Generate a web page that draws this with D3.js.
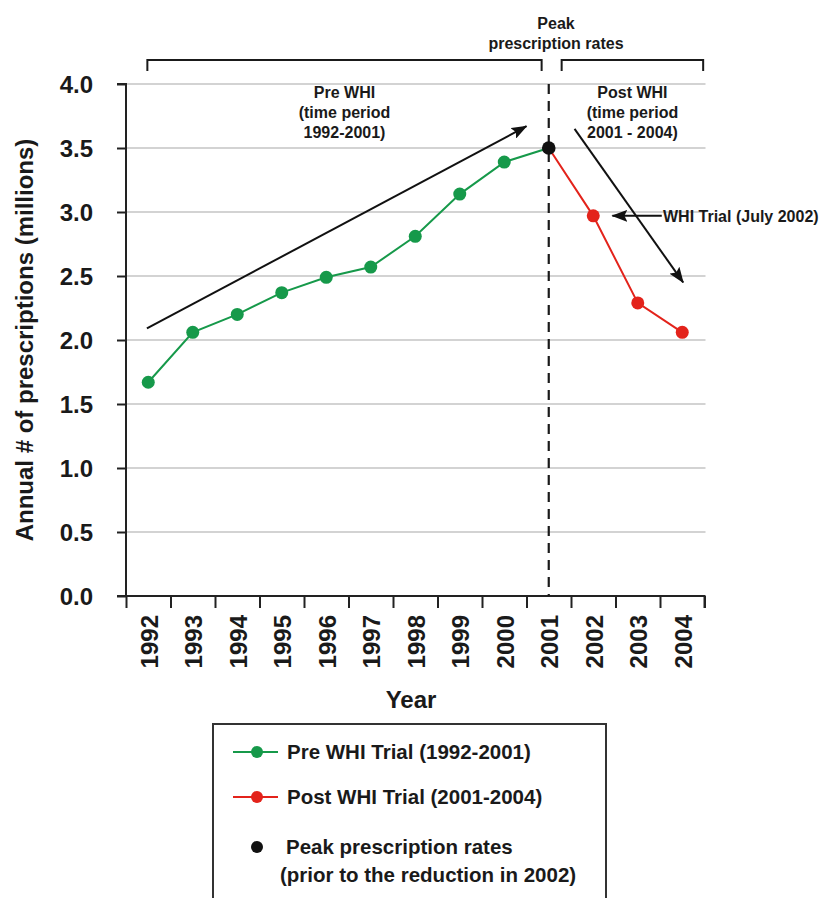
<!DOCTYPE html>
<html>
<head>
<meta charset="utf-8">
<script src="https://cdn.jsdelivr.net/npm/d3@7"></script>
<style>
  html, body { margin: 0; padding: 0; background: #fff; }
  svg { display: block; }
  text { font-family: "Liberation Sans", Arial, Helvetica, sans-serif; font-weight: bold; fill: #1a1a1a; }
</style>
</head>
<body>
<svg id="chart" width="821" height="898"></svg>
<script>
// ---- data ----
const years = ["1992","1993","1994","1995","1996","1997","1998","1999","2000","2001","2002","2003","2004"];
const preYears = ["1992","1993","1994","1995","1996","1997","1998","1999","2000","2001"];
const preValues = [1.67, 2.06, 2.20, 2.37, 2.49, 2.57, 2.81, 3.14, 3.39, 3.50];
const postYears = ["2001","2002","2003","2004"];
const postValues = [3.50, 2.97, 2.29, 2.06];
const peakYear = "2001";
const peakValue = 3.50;
const yTicks = [0.0, 0.5, 1.0, 1.5, 2.0, 2.5, 3.0, 3.5, 4.0];
const legendLabels = ["Pre WHI Trial (1992-2001)", "Post WHI Trial (2001-2004)", "Peak prescription rates", "(prior to the reduction in 2002)"];
const yTitle = "Annual # of prescriptions (millions)";
const xTitle = "Year";

// ---- layout ----
const svg = d3.select("#chart");
const pL = 126, pR = 704.5, pT = 84, pB = 596;
const green = "#16994a", red = "#e3231b";

const x = d3.scaleBand().domain(years).range([pL, pR]).padding(0);
const bw = x.bandwidth();
const cx = d => x(d) + bw / 2;
const xi = d3.scaleLinear().domain([0, years.length]).range([pL, pR]); // boundary scale
const xc = i => xi(i + 0.5); // fractional year index to centre pixel
const y = d3.scaleLinear().domain([0, 4]).range([pB, pT]);

// gridlines
svg.append("g").selectAll("line").data(yTicks.filter(v => v > 0)).join("line")
  .attr("x1", pL).attr("x2", pR + 1)
  .attr("y1", d => y(d)).attr("y2", d => y(d))
  .attr("stroke", "#c4c4c4").attr("stroke-width", 1.5);

// y axis
const yAxis = svg.append("g").attr("transform", `translate(${pL},0)`)
  .call(d3.axisLeft(y).tickValues(yTicks).tickFormat(d3.format(".1f")).tickSize(9).tickPadding(24));
yAxis.select(".domain").attr("stroke", "#222").attr("stroke-width", 2).attr("d", `M-9,${pT}H0V${pB}`);
yAxis.selectAll(".tick line").attr("stroke", "#222").attr("stroke-width", 2);
yAxis.selectAll(".tick text").attr("font-size", 24).attr("font-family", null).attr("fill", "#1a1a1a").attr("dy", "0.35em");

// x axis ticks at band boundaries
const xAxis = svg.append("g").attr("transform", `translate(0,${pB})`)
  .call(d3.axisBottom(xi).tickValues(d3.range(years.length + 1)).tickFormat("").tickSize(12));
xAxis.select(".domain").attr("stroke", "#222").attr("stroke-width", 2).attr("d", `M${pL - 9},0H${pR}V12`);
xAxis.selectAll(".tick line").attr("stroke", "#222").attr("stroke-width", 2);

// x tick labels (rotated)
svg.append("g").selectAll("text").data(years).join("text")
  .attr("transform", d => `translate(${cx(d) + 1},615) rotate(-90)`)
  .attr("text-anchor", "end").attr("dy", "0.35em").attr("font-size", 24)
  .text(d => d);

// axis titles
svg.append("text").attr("transform", `translate(33,${(pT + pB) / 2}) rotate(-90)`)
  .attr("text-anchor", "middle").attr("font-size", 24).text(yTitle);
svg.append("text").attr("x", 411).attr("y", 708).attr("text-anchor", "middle").attr("font-size", 24).text(xTitle);

// dashed peak line
svg.append("line").attr("x1", cx(peakYear)).attr("x2", cx(peakYear)).attr("y1", pT).attr("y2", pB)
  .attr("stroke", "#1a1a1a").attr("stroke-width", 2.2).attr("stroke-dasharray", "10,7");

// arrow marker
const defs = svg.append("defs");
defs.append("marker").attr("id", "ah").attr("viewBox", "0 0 16 12").attr("refX", 15).attr("refY", 6)
  .attr("markerWidth", 16).attr("markerHeight", 12).attr("markerUnits", "userSpaceOnUse").attr("orient", "auto")
  .append("path").attr("d", "M0,0 L16,6 L0,12 L3,6 Z").attr("fill", "#111");

// trend arrows (in year-index / value units)
const arrows = [
  [[-0.03, 2.09], [8.5, 3.67]],
  [[9.58, 3.65], [12.02, 2.45]],
  [[11.54, 2.97], [10.43, 2.97]]
];
svg.append("g").selectAll("line").data(arrows).join("line")
  .attr("x1", d => xc(d[0][0])).attr("y1", d => y(d[0][1]))
  .attr("x2", d => xc(d[1][0])).attr("y2", d => y(d[1][1]))
  .attr("stroke", "#111").attr("stroke-width", 2).attr("marker-end", "url(#ah)");

// series lines
const line = d3.line().x(d => cx(d[0])).y(d => y(d[1]));
const pre = preYears.map((d, i) => [d, preValues[i]]);
const post = postYears.map((d, i) => [d, postValues[i]]);
svg.append("path").datum(pre).attr("d", line).attr("fill", "none").attr("stroke", green).attr("stroke-width", 2);
svg.append("path").datum(post).attr("d", line).attr("fill", "none").attr("stroke", red).attr("stroke-width", 2);
svg.append("g").selectAll("circle").data(pre.filter(d => d[0] !== peakYear)).join("circle")
  .attr("cx", d => cx(d[0])).attr("cy", d => y(d[1])).attr("r", 6.5).attr("fill", green);
svg.append("g").selectAll("circle").data(post.filter(d => d[0] !== peakYear)).join("circle")
  .attr("cx", d => cx(d[0])).attr("cy", d => y(d[1])).attr("r", 6.5).attr("fill", red);
svg.append("circle").attr("cx", cx(peakYear)).attr("cy", y(peakValue)).attr("r", 6.8).attr("fill", "#111");

// brackets
const brackets = [[-0.02, 8.84], [9.29, 12.47]];
svg.append("g").selectAll("path").data(brackets).join("path")
  .attr("d", d => `M${xc(d[0])},71V60H${xc(d[1])}V71`)
  .attr("fill", "none").attr("stroke", "#1a1a1a").attr("stroke-width", 2);

// annotations
function block(xp, y0, lines, size, lh) {
  const t = svg.append("text").attr("text-anchor", "middle").attr("font-size", size);
  lines.forEach((s, i) => t.append("tspan").attr("x", xp).attr("y", y0 + i * lh).text(s));
}
block(556, 29, ["Peak", "prescription rates"], 16, 20);
block((xc(brackets[0][0]) + xc(brackets[0][1])) / 2, 98, ["Pre WHI", "(time period", "1992-2001)"], 16, 20);
block((xc(brackets[1][0]) + xc(brackets[1][1])) / 2, 98, ["Post WHI", "(time period", "2001 - 2004)"], 16, 20);
svg.append("text").attr("x", 663).attr("y", 222).attr("font-size", 16).text("WHI Trial (July 2002)");

// legend
const lg = svg.append("g");
lg.append("rect").attr("x", 213).attr("y", 724).attr("width", 393).attr("height", 190)
  .attr("fill", "none").attr("stroke", "#333").attr("stroke-width", 2);
const items = [{c: green, yy: 752, ln: true}, {c: red, yy: 797, ln: true}, {c: "#111", yy: 847, ln: false}];
items.forEach(it => {
  if (it.ln) lg.append("line").attr("x1", 233).attr("x2", 278).attr("y1", it.yy).attr("y2", it.yy)
    .attr("stroke", it.c).attr("stroke-width", 2);
  lg.append("circle").attr("cx", 257).attr("cy", it.yy).attr("r", 6).attr("fill", it.c);
});
lg.append("text").attr("x", 287).attr("y", 752).attr("dy", "0.35em").attr("font-size", 20.5).text(legendLabels[0]);
lg.append("text").attr("x", 287).attr("y", 797).attr("dy", "0.35em").attr("font-size", 20.5).text(legendLabels[1]);
lg.append("text").attr("x", 286).attr("y", 847).attr("dy", "0.35em").attr("font-size", 20.5).text(legendLabels[2]);
lg.append("text").attr("x", 280).attr("y", 875).attr("dy", "0.35em").attr("font-size", 20.5).text(legendLabels[3]);
</script>
</body>
</html>
